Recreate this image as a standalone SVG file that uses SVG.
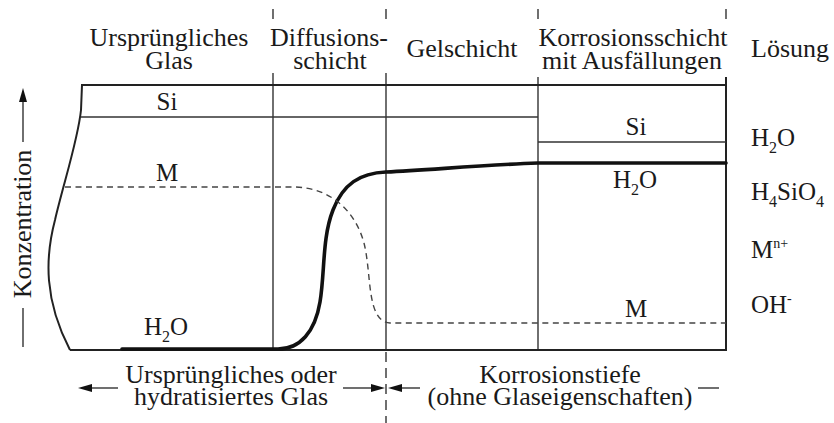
<svg xmlns="http://www.w3.org/2000/svg" width="834" height="423" viewBox="0 0 834 423">
<defs>
<style>
text{font-family:"Liberation Serif","Times New Roman",serif;fill:#1a1a1a;font-size:26px}
.c{text-anchor:middle}
.lbl{font-size:25px}
.sub{font-size:16px}
.sup{font-size:14px}
.thin{stroke:#333;stroke-width:1.4;fill:none}
.box{stroke:#222;stroke-width:2;fill:none}
.thick{stroke:#111;stroke-width:3.6;fill:none;stroke-linecap:round}
.dash{stroke:#444;stroke-width:1.4;fill:none;stroke-dasharray:6 4.5}
.vdash{stroke:#333;stroke-width:1.4;fill:none}
.ah{fill:#111}
</style>
</defs>
<rect width="834" height="423" fill="#fff"/>

<g id="headers">
<text class="c" x="169" y="46">Ursprüngliches</text>
<text class="c" x="169" y="69">Glas</text>
<text class="c" x="329" y="46">Diffusions-</text>
<text class="c" x="330" y="69">schicht</text>
<text class="c" x="462" y="57">Gelschicht</text>
<text class="c" x="633" y="46">Korrosionsschicht</text>
<text class="c" x="632" y="69">mit Ausfällungen</text>
<text x="751" y="57">Lösung</text>
</g>

<g id="frame">
<line class="vdash" x1="273" y1="9" x2="273" y2="19"/>
<line class="vdash" x1="386" y1="9" x2="386" y2="19"/>
<line class="vdash" x1="538" y1="9" x2="538" y2="19"/>
<line class="vdash" x1="726" y1="9" x2="726" y2="19"/>
<line class="thin" x1="273" y1="73" x2="273" y2="350"/>
<line class="thin" x1="386" y1="73" x2="386" y2="350"/>
<line class="thin" x1="538" y1="77" x2="538" y2="350"/>
<line class="box" x1="726" y1="77" x2="726" y2="351"/>
<line class="box" x1="81" y1="85" x2="727" y2="85"/>
<line class="box" x1="70" y1="350" x2="727" y2="350"/>
<path class="box" d="M82,85 L81,110 C78,140 63,185 55,220 C45,258 44,300 70,350"/>
<line class="thin" x1="81" y1="117" x2="538" y2="117"/>
<line class="thin" x1="538" y1="142" x2="726" y2="142"/>
<line class="vdash" x1="386" y1="352" x2="386" y2="423" stroke-dasharray="10 6"/>
</g>

<g id="curves">
<path class="thick" d="M122,349 L278,349 C300,349 315,332 320,302 C325,272 322,238 333,210 C343,184 360,173 386,172 C430,170 480,165 538,163 L726,163"/>
<path class="dash" d="M65,187 L295,187 C330,188 355,210 364,243 C372,275 366,321 390,323 L726,323"/>
</g>

<g id="labels">
<text class="c lbl" x="167" y="110">Si</text>
<text class="c lbl" x="167" y="181">M</text>
<text class="lbl" x="144" y="335">H<tspan class="sub" dy="7">2</tspan><tspan dy="-7">O</tspan></text>
<text class="c lbl" x="636" y="135">Si</text>
<text class="lbl" x="613" y="188">H<tspan class="sub" dy="7">2</tspan><tspan dy="-7">O</tspan></text>
<text class="c lbl" x="636" y="317">M</text>
</g>

<g id="solution">
<text class="lbl" x="751" y="146">H<tspan class="sub" dy="7">2</tspan><tspan dy="-7">O</tspan></text>
<text class="lbl" x="751" y="200">H<tspan class="sub" dy="7">4</tspan><tspan dy="-7">SiO</tspan><tspan class="sub" dy="7">4</tspan></text>
<text class="lbl" x="751" y="258">M<tspan class="sup" dy="-10">n+</tspan></text>
<text class="lbl" x="751" y="313">OH<tspan class="sup" dy="-10">-</tspan></text>
</g>

<g id="axis">
<line class="thin" x1="23" y1="100" x2="23" y2="142"/>
<polygon class="ah" points="23,88 19,102 27,102"/>
<text class="c" transform="translate(31,224) rotate(-90)">Konzentration</text>
<line class="thin" x1="23" y1="308" x2="23" y2="347"/>
</g>

<g id="bottom">
<text class="c" x="231" y="383">Ursprüngliches oder</text>
<text class="c" x="231" y="405">hydratisiertes Glas</text>
<line class="thin" x1="90" y1="388" x2="118" y2="388"/>
<polygon class="ah" points="78,388 92,384 92,392"/>
<line class="thin" x1="343" y1="388" x2="372" y2="388"/>
<polygon class="ah" points="385,388 371,384 371,392"/>
<line class="thin" x1="400" y1="388" x2="420" y2="388"/>
<polygon class="ah" points="388,388 402,384 402,392"/>
<text class="c" x="560" y="383">Korrosionstiefe</text>
<text class="c" x="560" y="405">(ohne Glaseigenschaften)</text>
<line class="thin" x1="698" y1="388" x2="719" y2="388"/>
</g>
</svg>
